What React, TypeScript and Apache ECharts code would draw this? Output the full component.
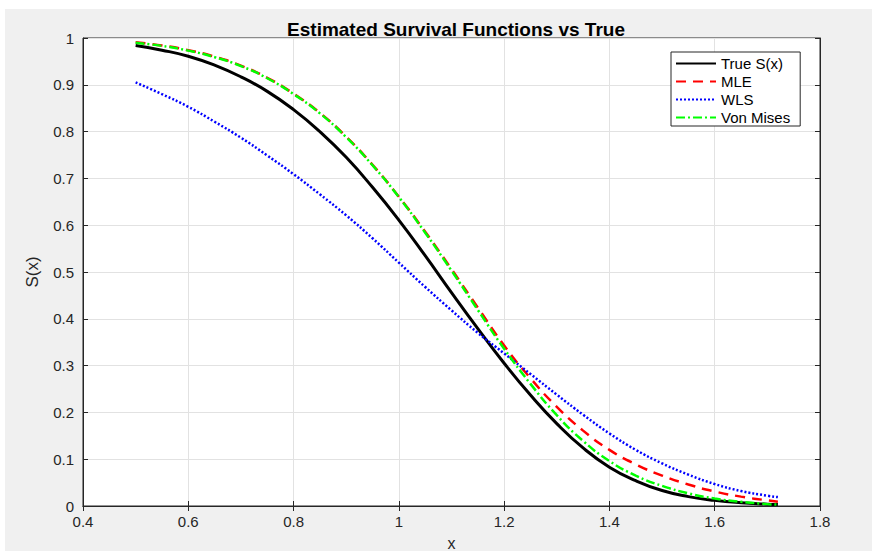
import React, { useEffect, useRef } from "react";
import * as echarts from "echarts";

const xValues = [0.5, 0.55, 0.6, 0.65, 0.7, 0.75, 0.8, 0.85, 0.9, 0.95, 1.0, 1.05, 1.1, 1.15, 1.2, 1.25, 1.3, 1.35, 1.4, 1.45, 1.5, 1.55, 1.6, 1.65, 1.7, 1.72];

const trueS = [0.984, 0.974, 0.961, 0.942, 0.917, 0.886, 0.847, 0.8, 0.745, 0.681, 0.611, 0.535, 0.456, 0.379, 0.305, 0.237, 0.176, 0.124, 0.083, 0.054, 0.033, 0.02, 0.012, 0.007, 0.004, 0.003];

const mleS = [0.991, 0.984, 0.974, 0.96, 0.941, 0.915, 0.881, 0.84, 0.789, 0.729, 0.661, 0.586, 0.506, 0.424, 0.343, 0.273, 0.212, 0.161, 0.12, 0.089, 0.065, 0.046, 0.031, 0.02, 0.012, 0.009];

const wlsS = [0.905, 0.88, 0.853, 0.821, 0.787, 0.749, 0.709, 0.666, 0.621, 0.572, 0.52, 0.468, 0.418, 0.37, 0.326, 0.282, 0.238, 0.195, 0.155, 0.12, 0.091, 0.067, 0.047, 0.032, 0.022, 0.019];

const vonMisesS = [0.99, 0.983, 0.973, 0.959, 0.94, 0.914, 0.88, 0.839, 0.788, 0.728, 0.66, 0.584, 0.503, 0.419, 0.336, 0.261, 0.194, 0.139, 0.096, 0.065, 0.043, 0.027, 0.016, 0.009, 0.004, 0.003];

const seriesNames = ["True S(x)", "MLE", "WLS", "Von Mises"];

const FONT = "Liberation Sans, Arial, sans-serif";
const AXIS_COLOR = "#262626";

export default function App() {
  const ref = useRef<HTMLDivElement>(null);
  useEffect(() => {
    document.body.style.margin = "0";
    const chart = echarts.init(ref.current!, null, { renderer: "svg" });
    const pairs = (ys: number[]) => xValues.map((x, i) => [x, ys[i]]);
    const fmt = (v: number) => (Math.abs(v - Math.round(v)) < 1e-9 ? String(Math.round(v)) : v.toFixed(1));
    const baseAxis = {
      type: "value",
      axisLine: { show: true, lineStyle: { color: AXIS_COLOR, width: 1 } },
      axisTick: { show: true, inside: true, length: 5, lineStyle: { color: AXIS_COLOR } },
    };
    chart.setOption({
      animation: false,
      backgroundColor: "#ffffff",
      graphic: [
        { type: "rect", z: -10, silent: true, shape: { x: 5, y: 9, width: 867, height: 542 }, style: { fill: "#f0f0f0" } },
        { type: "rect", z: -9, silent: true, shape: { x: 83, y: 38, width: 737, height: 468 }, style: { fill: "#ffffff" } },
      ],
      title: {
        text: "Estimated Survival Functions vs True",
        left: 451,
        top: 15,
        textAlign: "center",
        textStyle: { fontFamily: FONT, fontSize: 19, fontWeight: "bold", color: "#000" },
      },
      grid: {
        left: 83,
        right: 53,
        top: 38,
        bottom: 45,
        show: true,
        borderColor: AXIS_COLOR,
        borderWidth: 1,
        backgroundColor: "transparent",
        containLabel: false,
        outerBoundsMode: "none",
      },
      legend: {
        orient: "vertical",
        left: 671,
        top: 52,
        backgroundColor: "#ffffff",
        borderColor: AXIS_COLOR,
        borderWidth: 1,
        borderRadius: 0,
        padding: [4, 10, 1, 4],
        itemWidth: 40,
        itemHeight: 15,
        itemGap: 3,
        itemStyle: { opacity: 0 },
        textStyle: { fontFamily: FONT, fontSize: 15, lineHeight: 15, color: "#000" },
        data: seriesNames,
      },
      xAxis: [
        {
          ...baseAxis,
          min: 0.4,
          max: 1.8,
          interval: 0.2,
          splitLine: { show: true, lineStyle: { color: "#e2e2e2", width: 1 } },
          axisLabel: { formatter: fmt, color: AXIS_COLOR, fontSize: 15, fontFamily: FONT, margin: 8 },
          name: "x",
          nameLocation: "middle",
          nameGap: 30,
          nameTextStyle: { fontFamily: FONT, fontSize: 16, lineHeight: 14, color: AXIS_COLOR },
        },
        {
          ...baseAxis,
          position: "top",
          min: 0.4,
          max: 1.8,
          interval: 0.2,
          splitLine: { show: false },
          axisLabel: { show: false },
        },
      ],
      yAxis: [
        {
          ...baseAxis,
          min: 0,
          max: 1,
          interval: 0.1,
          splitLine: { show: true, lineStyle: { color: "#e2e2e2", width: 1 } },
          axisLabel: { formatter: fmt, color: AXIS_COLOR, fontSize: 15, fontFamily: FONT, margin: 9 },
          name: "S(x)",
          nameLocation: "middle",
          nameGap: 42,
          nameTextStyle: { fontFamily: FONT, fontSize: 17, color: AXIS_COLOR },
        },
        {
          ...baseAxis,
          position: "right",
          min: 0,
          max: 1,
          interval: 0.1,
          splitLine: { show: false },
          axisLabel: { show: false },
        },
      ],
      series: [
        {
          name: seriesNames[0],
          type: "line",
          data: pairs(trueS),
          symbol: "none",
          smooth: true,
          itemStyle: { color: "#000000" },
          lineStyle: { color: "#000000", width: 3, type: "solid" },
          z: 3,
        },
        {
          name: seriesNames[1],
          type: "line",
          data: pairs(mleS),
          symbol: "none",
          smooth: true,
          itemStyle: { color: "#ff0000" },
          lineStyle: { color: "#ff0000", width: 2.5, type: [10, 7] },
          z: 4,
        },
        {
          name: seriesNames[2],
          type: "line",
          data: pairs(wlsS),
          symbol: "none",
          smooth: true,
          itemStyle: { color: "#0000ff" },
          lineStyle: { color: "#0000ff", width: 2.5, type: [2, 2] },
          z: 5,
        },
        {
          name: seriesNames[3],
          type: "line",
          data: pairs(vonMisesS),
          symbol: "none",
          smooth: true,
          itemStyle: { color: "#00ff00" },
          lineStyle: { color: "#00ff00", width: 2.5, type: [9, 3, 2, 3] },
          z: 6,
        },
      ],
    });
    return () => chart.dispose();
  }, []);
  return <div ref={ref} style={{ width: 873, height: 551 }} />;
}
